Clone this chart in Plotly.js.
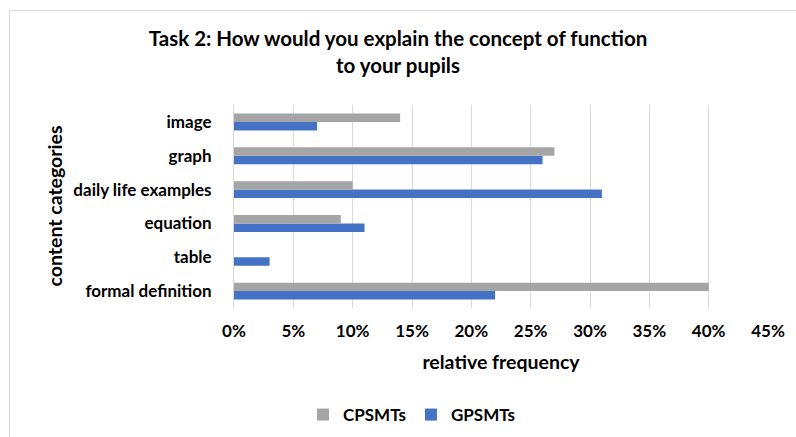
<!DOCTYPE html>
<html>
<head>
<meta charset="utf-8">
<script src="https://cdn.plot.ly/plotly-3.0.1.min.js"></script>
<style>
html,body{margin:0;padding:0;background:#fff;}
#wrap{position:relative;width:796px;height:437px;overflow:hidden;}
#chart{position:absolute;left:0;top:0;width:796px;height:437px;}
#frame{position:absolute;left:9px;top:10px;width:800px;height:440px;border:1px solid #d9d9d9;pointer-events:none;}
</style>
</head>
<body>
<div id="wrap">
<div id="chart"></div>
<div id="frame"></div>
</div>
<script>
const categories = ["formal definition", "table", "equation", "daily life examples", "graph", "image"];
const cpsmts = [0.40, 0, 0.09, 0.10, 0.27, 0.14];
const gpsmts = [0.22, 0.03, 0.11, 0.31, 0.26, 0.07];
const xTickVals = [0, 0.05, 0.10, 0.15, 0.20, 0.25, 0.30, 0.35, 0.40, 0.45];
const xTickText = ["0%", "5%", "10%", "15%", "20%", "25%", "30%", "35%", "40%", "45%"];
const yTitle = "content categories";

const FONT = "Lato, 'Open Sans', sans-serif";

const traces = [
  {
    type: "bar", orientation: "h", name: "GPSMTs",
    y: categories, x: gpsmts,
    marker: {color: "#4472c4"},
    legendrank: 2, hoverinfo: "x+y"
  },
  {
    type: "bar", orientation: "h", name: "CPSMTs",
    y: categories, x: cpsmts,
    marker: {color: "#a5a5a5"},
    legendrank: 1, hoverinfo: "x+y"
  }
];

const layout = {
  width: 796, height: 437,
  paper_bgcolor: "#fff", plot_bgcolor: "#fff",
  margin: {l: 234, r: 28, t: 105, b: 129},
  barmode: "group", bargap: 0.5, bargroupgap: 0,
  font: {family: FONT, color: "#000", size: 17},
  title: {
    text: "<b>Task 2: How would you explain the concept of function<br>to your pupils</b>",
    font: {family: FONT, size: 20.5, color: "#000"},
    x: 0.5, xref: "container", xanchor: "center",
    y: 1 - 46/437, yref: "container", yanchor: "middle"
  },
  xaxis: {
    range: [0, 0.45], tickvals: xTickVals, ticktext: xTickText,
    showgrid: true, gridcolor: "#d9d9d9", gridwidth: 1,
    zeroline: false, showline: false, ticks: "",
    tickfont: {family: FONT, size: 17, color: "#000", weight: "bold"},
    ticklabelstandoff: 11,
    title: {text: "<b>relative frequency</b>", font: {family: FONT, size: 19.5, color: "#000"}, standoff: 15},
    fixedrange: true
  },
  yaxis: {
    type: "category", categoryorder: "array", categoryarray: categories,
    showgrid: false, zeroline: false, showline: true, linecolor: "#d9d9d9", linewidth: 1,
    ticks: "",
    tickfont: {family: FONT, size: 17, color: "#000", weight: "bold"},
    ticklabelstandoff: 18,
    fixedrange: true
  },
  annotations: [{
    text: "<b>" + yTitle + "</b>",
    textangle: -90,
    xref: "paper", yref: "paper",
    x: (54 - 234) / 534, y: 0.5,
    xanchor: "center", yanchor: "middle",
    showarrow: false,
    font: {family: FONT, size: 19.5, color: "#000"}
  }],
  legend: {
    orientation: "h",
    x: 412/796, xref: "container", xanchor: "center",
    y: 1 - 415/437, yref: "container", yanchor: "middle",
    font: {family: FONT, size: 17, color: "#000", weight: "bold"},
    itemwidth: 30, traceorder: "normal"
  },
  showlegend: true
};

Plotly.newPlot("chart", traces, layout, {displayModeBar: false, staticPlot: true});
</script>
</body>
</html>
